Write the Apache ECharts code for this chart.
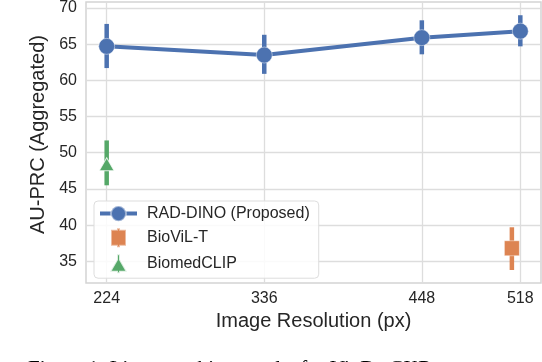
<!DOCTYPE html>
<html>
<head>
<meta charset="utf-8">
<script src="https://cdn.jsdelivr.net/npm/echarts@6/dist/echarts.min.js"></script>
<style>
  html, body { margin: 0; padding: 0; background: #fff; }
  #chart { width: 542px; height: 362px; }
</style>
</head>
<body>
<div id="chart"></div>
<script>
// tick labels
const xTicks = [224, 336, 448, 518]
const yTicks = [35, 40, 45, 50, 55, 60, 65, 70]

// RAD-DINO (Proposed)
const radX = [224, 336, 448, 518]
const radY = [64.7, 63.5, 65.9, 66.8]
const radLow = [61.7, 60.9, 63.6, 64.7]
const radHigh = [67.8, 66.3, 68.3, 69.0]

// BioViL-T
const biovilX = [512]
const biovilY = [36.8]
const biovilLow = [33.8]
const biovilHigh = [39.7]

// BiomedCLIP
const biomedX = [224]
const biomedY = [48.4]
const biomedLow = [45.5]
const biomedHigh = [51.7]

const BLUE = '#4C72B0'
const ORANGE = '#DD8452'
const GREEN = '#55A868'
const TXT = '#262626'

function zip(a, b) { return a.map((v, i) => [v, b[i]]) }
function zip3(a, b, c) { return a.map((v, i) => [v, b[i], c[i]]) }

// vertical error bar, no caps
function errBar(color) {
  return function (params, api) {
    const p1 = api.coord([api.value(0), api.value(1)])
    const p2 = api.coord([api.value(0), api.value(2)])
    return {
      type: 'line',
      shape: { x1: p1[0], y1: p1[1], x2: p2[0], y2: p2[1] },
      style: { stroke: color, lineWidth: 4.5 },
    }
  }
}

const chart = echarts.init(document.getElementById('chart'))
const option = {
  animation: false,
  textStyle: { fontFamily: 'Liberation Sans' },
  grid: {
    left: 86, right: 1, top: 1, bottom: 79,
    show: true,
    borderColor: '#d4d4d4',
    borderWidth: 1.5,
  },
  xAxis: {
    type: 'value',
    min: 209.3,
    max: 532.7,
    axisLine: { show: false },
    axisTick: { show: false },
    splitLine: { show: false },
    axisLabel: { customValues: xTicks, color: TXT, fontSize: 16, margin: 8 },
    name: 'Image Resolution (px)',
    nameLocation: 'middle',
    nameGap: 27,
    nameTextStyle: { color: TXT, fontSize: 20 },
  },
  yAxis: {
    type: 'value',
    min: 32,
    max: 70.82,
    axisLine: { show: false },
    axisTick: { show: false },
    splitLine: { show: false },
    axisLabel: { customValues: yTicks, color: TXT, fontSize: 16, margin: 9 },
    name: 'AU-PRC (Aggregated)',
    nameLocation: 'middle',
    nameGap: 31,
    nameTextStyle: { color: TXT, fontSize: 20, padding: [0, 0, 0, 16] },
  },
  legend: {
    orient: 'vertical',
    left: 94,
    top: 201,
    padding: [4, 9, 4, 4],
    itemWidth: 37,
    itemHeight: 19,
    itemGap: 5,
    z: 10,
    textStyle: { color: TXT, fontSize: 16, padding: [0, 0, 0, 5] },
    backgroundColor: 'rgba(255,255,255,0.85)',
    borderColor: '#dddddd',
    borderWidth: 1,
    borderRadius: 4,
    data: [
      { name: 'RAD-DINO (Proposed)', lineStyle: { width: 4 } },
      { name: 'BioViL-T', icon: 'path://M6,0H9V1.5H15V17.5H9V19H6V17.5H0V1.5H6Z' },
      { name: 'BiomedCLIP', icon: 'path://M6.5,0H9.5V5.5L16.5,17.5H9.5V19H6.5V17.5H-0.5L6.5,5.5Z' },
    ],
  },
  series: [
    {
      // grid lines
      type: 'line',
      name: 'grid',
      data: [],
      z: 0,
      silent: true,
      markLine: {
        silent: true,
        z: 1,
        symbol: 'none',
        label: { show: false },
        lineStyle: { color: '#dddddd', width: 1.3, type: 'solid' },
        data: xTicks.map(v => ({ xAxis: v })).concat(yTicks.map(v => ({ yAxis: v }))),
      },
    },
    {
      type: 'custom',
      name: 'radErr',
      renderItem: errBar(BLUE),
      data: zip3(radX, radLow, radHigh),
      z: 3,
    },
    {
      type: 'line',
      name: 'RAD-DINO (Proposed)',
      data: zip(radX, radY),
      symbol: 'circle',
      symbolSize: 16,
      lineStyle: { color: BLUE, width: 4 },
      itemStyle: { color: BLUE, borderColor: 'rgba(255,255,255,0.45)', borderWidth: 1 },
      z: 4,
    },
    {
      type: 'custom',
      name: 'biovilErr',
      renderItem: errBar(ORANGE),
      data: zip3(biovilX, biovilLow, biovilHigh),
      z: 3,
    },
    {
      type: 'scatter',
      name: 'BioViL-T',
      data: zip(biovilX, biovilY),
      symbol: 'rect',
      symbolSize: 15,
      itemStyle: { color: ORANGE, opacity: 1, borderColor: 'rgba(255,255,255,0.45)', borderWidth: 1 },
      z: 4,
    },
    {
      type: 'custom',
      name: 'biomedErr',
      renderItem: errBar(GREEN),
      data: zip3(biomedX, biomedLow, biomedHigh),
      z: 3,
    },
    {
      type: 'scatter',
      name: 'BiomedCLIP',
      data: zip(biomedX, biomedY),
      symbol: 'triangle',
      symbolSize: [15, 13],
      itemStyle: { color: GREEN, opacity: 1, borderColor: 'rgba(255,255,255,0.8)', borderWidth: 1 },
      z: 4,
    },
  ],
  graphic: [
    {
      // caption of the figure, cut off at the bottom edge
      type: 'text',
      left: 28,
      top: 359,
      style: {
        text: 'Figure 1: Linear probing results for VinDr-CXR',
        font: '21px "Liberation Serif"',
        fill: '#000',
      },
    },
  ],
}
chart.setOption(option)
</script>
</body>
</html>
